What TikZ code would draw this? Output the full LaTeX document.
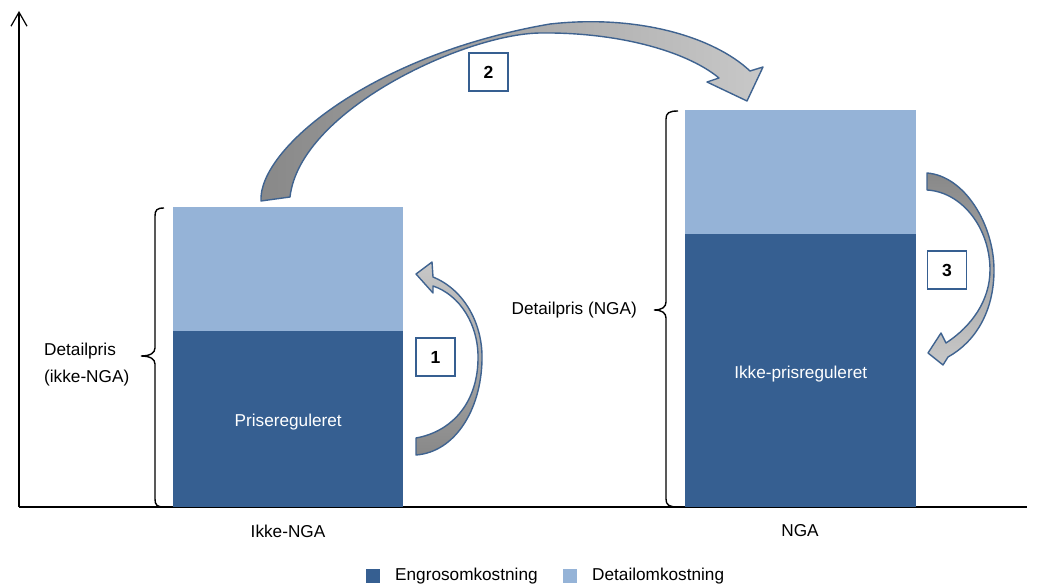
\documentclass[tikz,border=0pt]{standalone}
\usepackage{fontspec}
\setmainfont{Liberation Sans}
\usetikzlibrary{arrows.meta}
\definecolor{darkbar}{HTML}{365F91}
\definecolor{lightbar}{HTML}{95B3D7}
\definecolor{arrowline}{HTML}{3F6390}
\definecolor{gdark}{HTML}{888888}
\definecolor{glight}{HTML}{C8C8C8}
\begin{document}
\begin{tikzpicture}[x=1pt,y=-1pt,
  lbl/.style={font=\fontsize{17.2}{27}\selectfont, inner sep=0pt},
  numbox/.style={draw=darkbar, line width=1.5pt, fill=white, minimum width=39pt, minimum height=38pt, inner sep=0pt, font=\fontsize{17.5}{20}\selectfont\bfseries},
  bar/.style={inner sep=0pt, anchor=north west},
  blockarrow/.style={draw=arrowline, line width=1.4pt, line join=round},
  bracepath/.style={line width=1.4pt},
  axis/.style={line width=1.2pt},
  legsq/.style={minimum size=14pt, inner sep=0pt}]
\useasboundingbox (0,0) rectangle (1041,585);
% axes
\coordinate (O) at (19,507);
\coordinate (ytop) at (19,11);
\coordinate (xend) at (1027,507);
\draw[axis, -{Straight Barb[length=14pt,width=16pt]}] (O) -- (ytop);
\draw[axis] (O) -- (xend);
% bars
\node[bar, fill=lightbar, minimum width=230pt, minimum height=124pt] (b1l) at (173,207) {};
\node[bar, fill=darkbar, minimum width=230pt, minimum height=176pt] (b1d) at (173,331) {};
\node[lbl, text=white] (t1) at ([yshift=-3pt]b1d.center) {Prisereguleret};
\node[bar, fill=lightbar, minimum width=231pt, minimum height=124pt] (b2l) at (685,110) {};
\node[bar, fill=darkbar, minimum width=231pt, minimum height=273pt] (b2d) at (685,234) {};
\node[lbl, text=white] (t2) at ([yshift=-3pt]b2d.center) {Ikke-prisreguleret};
% category labels
\node[lbl] (c1) at (288,531) {Ikke-NGA};
\node[lbl] (c2) at (800,531) {NGA};
% braces
\draw[bracepath] (164,208) .. controls (157,208) and (155,210) .. (155,216) -- (155,348)
  .. controls (155,353) and (150,356) .. (141,356)
  .. controls (150,356) and (155,359) .. (155,364) -- (155,499)
  .. controls (155,505) and (157,507) .. (164,507);
\draw[bracepath] (678,111) .. controls (669,111) and (666,113) .. (666,119) -- (666,302)
  .. controls (666,307) and (662,310) .. (654,310)
  .. controls (662,310) and (666,313) .. (666,318) -- (666,499)
  .. controls (666,505) and (669,507) .. (678,507);
\node[lbl, anchor=west, align=left] (d1) at (44,365) {Detailpris\\(ikke-NGA)};
\node[lbl, anchor=east] (d2) at (637,310) {Detailpris (NGA)};
% curved block arrows
\draw[blockarrow, top color=glight, bottom color=gdark]
  (416,274) -- (432,262) -- (433,277)
  .. controls (465,290) and (483,325) .. (482,360)
  .. controls (481,410) and (455,452) .. (416,455) -- (416,438)
  .. controls (450,432) and (477,405) .. (478,360)
  .. controls (479,325) and (460,295) .. (433,286) -- (433,293) -- cycle;
\draw[blockarrow, top color=gdark, bottom color=glight]
  (927,173) .. controls (965,176) and (994,225) .. (994,270)
  .. controls (994,312) and (975,342) .. (948,357) -- (943,365) -- (928,353) -- (941,333) -- (946,343)
  .. controls (972,326) and (990,300) .. (990,270)
  .. controls (990,228) and (962,192) .. (927,190) -- cycle;
\draw[blockarrow, left color=gdark, right color=glight]
  (261,201) .. controls (258,150) and (370,55) .. (550,24)
  .. controls (640,14) and (715,38) .. (750,71) -- (763,67) -- (747,101) -- (707,82) -- (719,78)
  .. controls (685,50) and (615,32) .. (540,33)
  .. controls (465,34) and (300,110) .. (290,197) -- cycle;
% number boxes
\node[numbox] (n1) at (435.5,357) {1};
\node[numbox] (n2) at (488.5,72) {2};
\node[numbox] (n3) at (947,270) {3};
% legend
\node[legsq, fill=darkbar] (lg1) at (373,576) {};
\node[lbl, anchor=west] (lt1) at (395,576) {Engrosomkostning};
\node[legsq, fill=lightbar] (lg2) at (569.5,576) {};
\node[lbl, anchor=west] (lt2) at (592,576) {Detailomkostning};
\end{tikzpicture}
\end{document}
